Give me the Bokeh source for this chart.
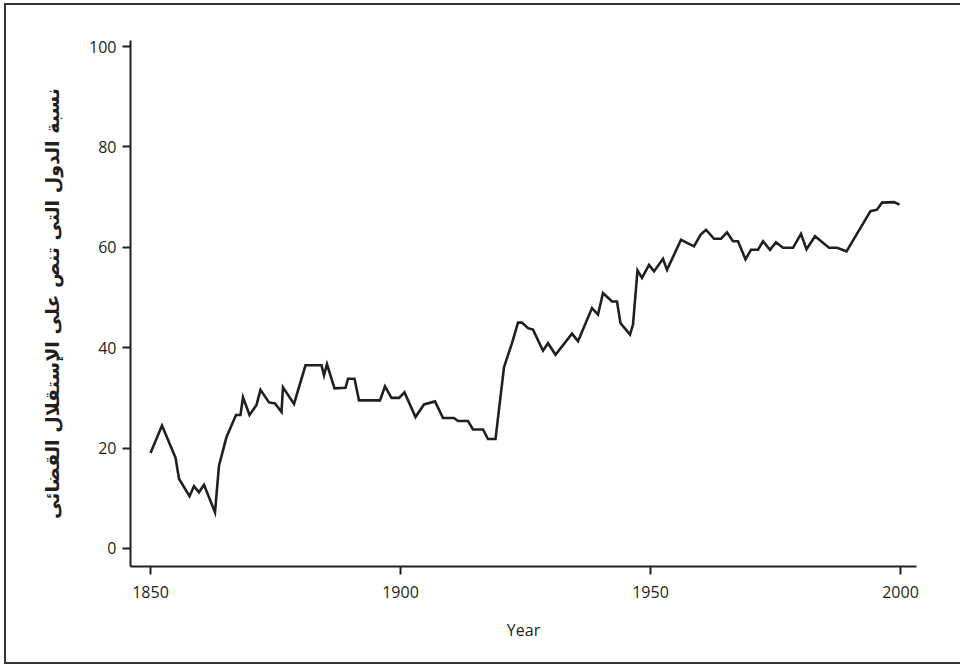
from bokeh.plotting import figure
from bokeh.models import ColumnDataSource, Range1d, FixedTicker
from bokeh.embed import file_html
from bokeh.resources import INLINE

# Data
years = [1850, 1852.3, 1855, 1855.7, 1857.8, 1858.7, 1859.7, 1860.7, 1862.9, 1863.7,
         1865.2, 1867.1, 1868, 1868.5, 1869.8, 1871.2, 1872, 1873.7, 1874.9, 1876.2,
         1876.5, 1878.7, 1881, 1884.2, 1884.7, 1885.3, 1886.8, 1889, 1889.5, 1890.8,
         1891.7, 1895.9, 1896.9, 1898.2, 1899.7, 1900.8, 1903, 1904.7, 1906.9, 1908.5,
         1910.7, 1911.5, 1913.5, 1914.5, 1916.5, 1917.5, 1919, 1920.7, 1922.3, 1923.5,
         1924.3, 1925.5, 1926.5, 1928.5, 1929.5, 1931, 1934.3, 1935.5, 1938.3, 1939.5,
         1940.5, 1942.3, 1943.3, 1944, 1945.9, 1946.5, 1947.4, 1948.3, 1949.7, 1950.7,
         1952.5, 1953.3, 1956.1, 1958.7, 1960, 1961.1, 1962.7, 1964.1, 1965.3, 1966.5,
         1967.5, 1969, 1970.1, 1971.5, 1972.5, 1973.9, 1975.1, 1976.5, 1978.5, 1980.1,
         1981.2, 1982.9, 1985.7, 1987.3, 1989.2, 1994, 1995.3, 1996.3, 1998.7, 1999.8]
share = [19, 24.5, 18.1, 13.9, 10.4, 12.4, 11.2, 12.7, 7.2, 16.5,
         22.2, 26.6, 26.6, 30.1, 26.6, 28.6, 31.6, 29.1, 28.9, 27.2,
         32.1, 28.8, 36.5, 36.5, 34.5, 36.7, 31.9, 32, 33.8, 33.8,
         29.5, 29.5, 32.3, 30, 30, 31.1, 26.2, 28.7, 29.3, 26,
         26, 25.4, 25.4, 23.7, 23.7, 21.8, 21.8, 36.1, 40.9, 45,
         45, 43.9, 43.6, 39.4, 40.9, 38.6, 42.8, 41.3, 47.9, 46.6,
         50.9, 49.2, 49.2, 44.9, 42.6, 44.6, 55.4, 53.9, 56.5, 55.2,
         57.7, 55.5, 61.5, 60.2, 62.5, 63.5, 61.7, 61.7, 63, 61.2,
         61.2, 57.6, 59.5, 59.5, 61.2, 59.5, 61, 59.9, 59.9, 62.7,
         59.6, 62.2, 59.9, 59.9, 59.2, 67.2, 67.5, 68.9, 69, 68.5]
x_ticks = [1850, 1900, 1950, 2000]
y_ticks = [0, 20, 40, 60, 80, 100]
x_title = "Year"
y_title = "نسبة الدول التى تنص على الإستقلال القضائى"

assert len(years) == len(share)

src = ColumnDataSource(dict(year=years, share=share))

p = figure(width=956, height=661, output_backend="svg", toolbar_location=None,
           x_range=Range1d(1846, 2003.2), y_range=Range1d(-3.59, 101.2),
           min_border_left=124, min_border_right=46, min_border_top=35,
           min_border_bottom=100)
p.margin = (3, 0, 0, 4)
p.styles = {"border-top": "2px solid #333333", "border-left": "2px solid #333333",
            "border-bottom": "2px solid #333333"}

p.line("year", "share", source=src, line_color="#231f20", line_width=2.6,
       line_join="miter")

p.outline_line_color = None
p.grid.grid_line_color = None
p.background_fill_color = "white"
p.border_fill_color = "white"

for ax, ticks in ((p.xaxis[0], x_ticks), (p.yaxis[0], y_ticks)):
    ax.ticker = FixedTicker(ticks=ticks)
    ax.axis_line_color = "#231f20"
    ax.axis_line_width = 2
    ax.major_tick_line_color = "#231f20"
    ax.major_tick_line_width = 2
    ax.major_tick_out = 8
    ax.major_tick_in = 0
    ax.minor_tick_line_color = None
    ax.major_label_text_font = "Open Sans"
    ax.major_label_text_font_size = "16px"
    ax.major_label_text_color = "#231f20"
    ax.axis_label_text_color = "#231f20"
    ax.axis_label_text_font_style = "normal"

p.xaxis.axis_label = x_title
p.xaxis.axis_label_text_font = "Open Sans"
p.xaxis.axis_label_text_font_size = "16px"
p.xaxis.axis_label_standoff = 18
p.xaxis.major_label_standoff = 11

p.yaxis.axis_label = y_title
p.yaxis.axis_label_text_font = "DejaVu Sans"
p.yaxis.axis_label_text_font_style = "bold"
p.yaxis.axis_label_text_font_size = "19px"
p.yaxis.axis_label_standoff = 23
p.yaxis.major_label_standoff = 6

open("out.html", "w").write(file_html(p, INLINE))
